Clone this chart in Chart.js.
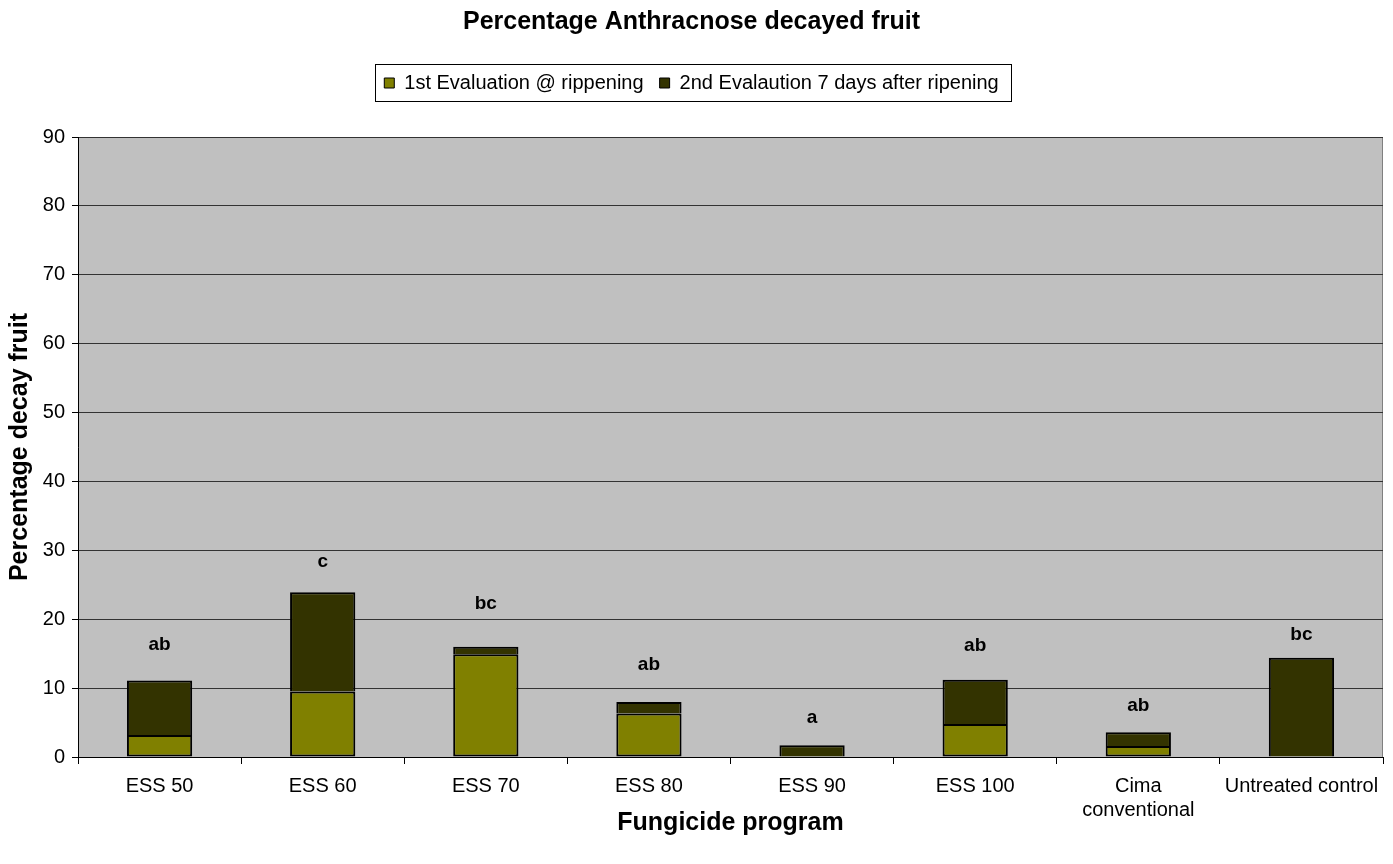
<!DOCTYPE html>
<html>
<head>
<meta charset="utf-8">
<title>Percentage Anthracnose decayed fruit</title>
<script src="https://cdn.jsdelivr.net/npm/chart.js@4.4.1/dist/chart.umd.min.js"></script>
<style>
  html, body { margin: 0; padding: 0; background: #ffffff; }
  #wrap { width: 1393px; height: 864px; }
</style>
</head>
<body>
<div id="wrap"><canvas id="chart" width="1393" height="864"></canvas></div>
<script>
// Fungicide programs (x categories)
const programs = ["ESS 50", "ESS 60", "ESS 70", "ESS 80", "ESS 90", "ESS 100", ["Cima", "conventional"], "Untreated control"];

// % decayed fruit at the first evaluation (at ripening)
const firstEval = [3.2, 9.5, 14.9, 6.3, 0, 4.8, 1.6, 0];
// additional % decayed fruit at the second evaluation (7 days after ripening), stacked on top
const secondEval = [7.9, 14.4, 1.1, 1.7, 1.7, 6.4, 2.0, 14.4];

// significance letters and the height (in % units) at which each is written
const sigLetters = ["ab", "c", "bc", "ab", "a", "ab", "ab", "bc"];
const sigLetterY = [16.3, 28.3, 22.2, 13.4, 5.7, 16.1, 7.4, 17.7];

// y axis tick values
const yTicks = [0, 10, 20, 30, 40, 50, 60, 70, 80, 90];

const FONT = "Arial, 'Liberation Sans', sans-serif";

// grey plot background with a thin frame
const plotBackground = {
  id: "plotBackground",
  beforeDraw(chart) {
    const { ctx, chartArea: a } = chart;
    ctx.save();
    ctx.fillStyle = "#c0c0c0";
    ctx.fillRect(a.left, a.top, a.right - a.left, a.bottom - a.top);
    ctx.strokeStyle = "#808080";
    ctx.lineWidth = 1;
    ctx.strokeRect(a.left + 0.5, a.top + 0.5, a.right - a.left - 1, a.bottom - a.top);
    ctx.restore();
  }
};

// box drawn around the legend items
const legendFrame = {
  id: "legendFrame",
  afterDraw(chart) {
    const lg = chart.legend;
    if (!lg || !lg.legendHitBoxes || !lg.legendHitBoxes.length) return;
    let l = Infinity, r = -Infinity, t = Infinity, b = -Infinity;
    lg.legendHitBoxes.forEach(h => {
      l = Math.min(l, h.left); r = Math.max(r, h.left + h.width);
      t = Math.min(t, h.top); b = Math.max(b, h.top + h.height);
    });
    const ctx = chart.ctx;
    ctx.save();
    ctx.strokeStyle = "#000000";
    ctx.lineWidth = 1;
    const x0 = Math.round(l - 9), x1 = Math.round(r + 12);
    const y0 = Math.round(t - 9), y1 = Math.round(b + 8);
    ctx.strokeRect(x0 + 0.5, y0 + 0.5, x1 - x0, y1 - y0);
    ctx.restore();
  }
};

// significance letters above each bar
const letterLabels = {
  id: "letterLabels",
  afterDatasetsDraw(chart) {
    const { ctx, scales } = chart;
    ctx.save();
    ctx.font = "bold 19px " + FONT;
    ctx.fillStyle = "#000000";
    ctx.textAlign = "center";
    ctx.textBaseline = "middle";
    sigLetters.forEach((txt, i) => {
      ctx.fillText(txt, scales.x.getPixelForValue(i), scales.y.getPixelForValue(sigLetterY[i]));
    });
    ctx.restore();
  }
};

new Chart(document.getElementById("chart"), {
  type: "bar",
  data: {
    labels: programs,
    datasets: [
      {
        label: "1st Evaluation @ rippening",
        data: firstEval,
        backgroundColor: "#808000",
        borderColor: "#000000",
        borderWidth: { left: 2, right: 2, top: 2, bottom: 2 },
        borderSkipped: false,
        categoryPercentage: 1,
        barPercentage: 0.4
      },
      {
        label: "2nd Evalaution 7 days after ripening",
        data: secondEval,
        backgroundColor: "#333300",
        borderColor: "#000000",
        borderWidth: { left: 2, right: 2, top: 2, bottom: 0 },
        borderSkipped: false,
        categoryPercentage: 1,
        barPercentage: 0.4
      }
    ]
  },
  options: {
    responsive: false,
    animation: false,
    devicePixelRatio: 1,
    layout: { padding: { left: 0, right: 10, top: 7, bottom: 0 } },
    plugins: {
      title: {
        display: true,
        text: "Percentage Anthracnose decayed fruit",
        color: "#000000",
        font: { family: FONT, size: 25, weight: "bold" },
        padding: { top: 0, bottom: 20 }
      },
      // empty spacer between the legend and the plot
      subtitle: {
        display: true,
        text: "",
        weight: 500,
        font: { size: 10 },
        padding: { top: 22, bottom: 0 }
      },
      legend: {
        position: "top",
        labels: {
          color: "#000000",
          font: { family: FONT, size: 20 },
          boxWidth: 10,
          boxHeight: 10,
          padding: 16,
          generateLabels(chart) {
            return chart.data.datasets.map((ds, i) => ({
              text: ds.label,
              fillStyle: ds.backgroundColor,
              strokeStyle: "#000000",
              lineWidth: 1,
              datasetIndex: i,
              fontColor: "#000000"
            }));
          }
        }
      },
      tooltip: { enabled: false }
    },
    scales: {
      x: {
        stacked: true,
        afterFit(scale) { scale.height = 107; },
        grid: {
          offset: true,
          drawOnChartArea: false,
          drawTicks: true,
          tickLength: 7,
          color: "#000000"
        },
        border: { color: "#000000", width: 1 },
        ticks: {
          color: "#000000",
          font: { family: FONT, size: 20 },
          maxRotation: 0,
          autoSkip: false,
          padding: 10
        },
        title: {
          display: true,
          text: "Fungicide program",
          color: "#000000",
          font: { family: FONT, size: 25, weight: "bold" },
          padding: { top: 0, bottom: 26 }
        }
      },
      y: {
        stacked: true,
        min: 0,
        max: 90,
        afterFit(scale) { scale.width = 78; },
        afterBuildTicks(scale) {
          scale.ticks = yTicks.map(v => ({ value: v }));
        },
        grid: {
          color: "#333333",
          lineWidth: 1,
          drawTicks: true,
          tickLength: 6,
          tickColor: "#000000"
        },
        border: { color: "#000000", width: 1 },
        ticks: {
          color: "#000000",
          font: { family: FONT, size: 20 },
          padding: 7
        },
        title: {
          display: true,
          text: "Percentage decay fruit",
          color: "#000000",
          font: { family: FONT, size: 25, weight: "bold" },
          padding: { top: 5, bottom: 0 }
        }
      }
    }
  },
  plugins: [plotBackground, legendFrame, letterLabels]
});
</script>
</body>
</html>
